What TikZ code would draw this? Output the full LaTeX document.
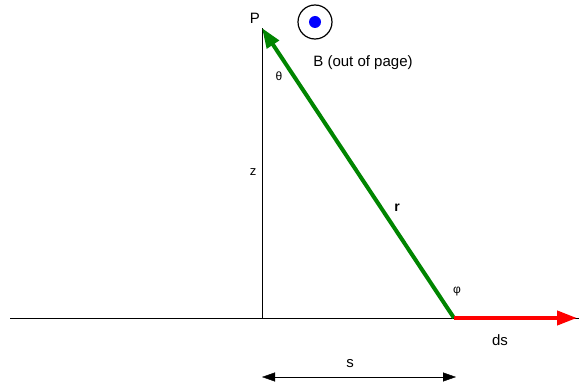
\documentclass[tikz,border=0pt]{standalone}
\usepackage{fontspec}
\setmainfont{Liberation Sans}
\usetikzlibrary{arrows.meta,positioning}

\begin{document}
\begin{tikzpicture}[x=1pt, y=-1pt, font=\fontsize{15}{17}\selectfont]

\tikzstyle{lbl}=[inner sep=0pt]
\tikzstyle{vec}=[-{Triangle[length=20pt,width=14pt]}, line width=4pt]

\useasboundingbox (0,0) rectangle (579,385);

\coordinate (Left)  at (10,318);
\coordinate (Right) at (579,318);
\coordinate (Foot)  at (262,318);
\coordinate (Src)   at (454,318);
\coordinate (P)     at (262,28);
\coordinate (Tip)   at (577,318);
\coordinate (SL)    at (262,377);
\coordinate (SR)    at (456,377);

\node[circle, draw, line width=1.2pt, minimum size=34pt, inner sep=0pt] (Bsym) at (315,22) {};
\fill[blue] (Bsym.center) circle (6pt);

\node[lbl] (Plbl)  at (255,18)  {P};
\node[lbl] (Blbl)  at (363,63)  {B (out of page)};
\node[lbl, font=\fontsize{12}{14}\selectfont] (thlbl) at (279,76)  {θ};
\node[lbl, font=\fontsize{13}{15}\selectfont] (zlbl)  at (253,172) {z};
\node[lbl, font=\fontsize{14}{16}\selectfont\bfseries] (rlbl) at (397,208) {r};
\node[lbl, font=\fontsize{12}{14}\selectfont] (philbl) at (457,292) {φ};
\node[lbl] (dslbl) at (500,340) {ds};
\node[lbl] (slbl)  at (350,364) {s};

\draw (Left) -- (Right);
\draw (Foot) -- (P);
\draw[vec, green!52!black] (Src) -- (P);
\draw[vec, red] (Src) -- (Tip);
\draw[{Triangle[length=13pt,width=9pt]}-{Triangle[length=13pt,width=9pt]}] (SL) -- (SR);
\end{tikzpicture}
\end{document}
